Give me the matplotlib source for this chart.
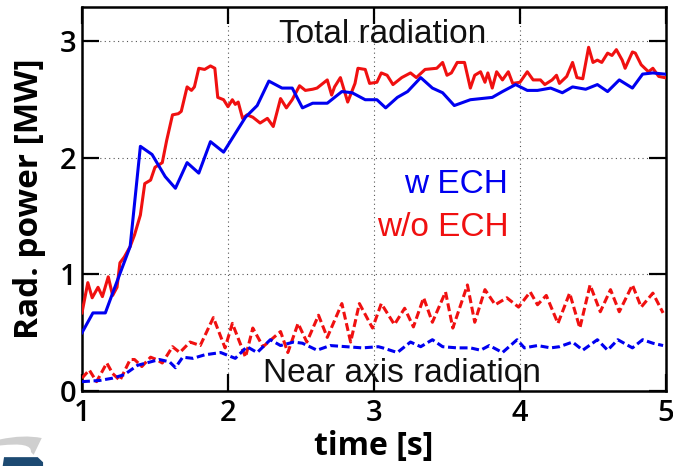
import numpy as np
import matplotlib.pyplot as plt
from matplotlib.patches import Polygon, PathPatch
from matplotlib.path import Path

# total radiation, with ECH
t_tot_ech = [1.0, 1.075, 1.16, 1.21, 1.33, 1.40, 1.48, 1.57, 1.64, 1.72, 1.80, 1.88,
             1.97, 2.12, 2.20, 2.28, 2.37, 2.44, 2.51, 2.58, 2.68, 2.78, 2.85, 2.94,
             3.02, 3.08, 3.16, 3.23, 3.32, 3.40, 3.47, 3.55, 3.66, 3.81, 3.88, 3.97,
             4.05, 4.12, 4.21, 4.29, 4.36, 4.45, 4.53, 4.60, 4.68, 4.77, 4.84, 4.91, 4.99]
p_tot_ech = [0.50, 0.67, 0.67, 0.84, 1.24, 2.10, 2.03, 1.84, 1.74, 1.96, 1.87, 2.14,
             2.05, 2.35, 2.45, 2.66, 2.60, 2.60, 2.43, 2.47, 2.47, 2.57, 2.56, 2.50,
             2.50, 2.43, 2.52, 2.57, 2.69, 2.60, 2.56, 2.45, 2.50, 2.52, 2.57, 2.63,
             2.58, 2.58, 2.60, 2.56, 2.61, 2.59, 2.63, 2.57, 2.67, 2.60, 2.72, 2.73, 2.72]

# total radiation, without ECH
t_tot_noech = [1.0, 1.04, 1.07, 1.11, 1.14, 1.18, 1.21, 1.24, 1.26, 1.29, 1.33, 1.36,
               1.40, 1.43, 1.47, 1.50, 1.55, 1.58, 1.62, 1.66, 1.68, 1.72, 1.75, 1.77,
               1.80, 1.84, 1.88, 1.91, 1.93, 1.97, 2.00, 2.03, 2.05, 2.07, 2.10, 2.13,
               2.17, 2.22, 2.27, 2.31, 2.36, 2.40, 2.44, 2.49, 2.53, 2.58, 2.61, 2.65,
               2.68, 2.71, 2.73, 2.77, 2.82, 2.87, 2.89, 2.94, 2.97, 3.02, 3.05, 3.09,
               3.13, 3.19, 3.25, 3.29, 3.35, 3.43, 3.47, 3.50, 3.53, 3.57, 3.60, 3.62,
               3.66, 3.69, 3.73, 3.76, 3.78, 3.81, 3.84, 3.88, 3.92, 3.95, 4.00, 4.05,
               4.09, 4.14, 4.17, 4.22, 4.25, 4.27, 4.32, 4.36, 4.39, 4.43, 4.47, 4.50,
               4.53, 4.56, 4.60, 4.63, 4.66, 4.70, 4.72, 4.77, 4.79, 4.83, 4.88, 4.91,
               4.95, 4.99]
p_tot_noech = [0.67, 0.93, 0.80, 0.89, 0.81, 0.98, 0.82, 0.89, 1.10, 1.15, 1.24, 1.34,
               1.51, 1.78, 1.81, 1.92, 1.96, 2.15, 2.37, 2.38, 2.40, 2.61, 2.58, 2.61,
               2.77, 2.76, 2.79, 2.77, 2.52, 2.50, 2.44, 2.50, 2.46, 2.48, 2.34, 2.37,
               2.35, 2.30, 2.34, 2.27, 2.51, 2.43, 2.50, 2.62, 2.58, 2.59, 2.60, 2.64,
               2.67, 2.54, 2.61, 2.69, 2.48, 2.64, 2.77, 2.76, 2.64, 2.65, 2.73, 2.71,
               2.63, 2.69, 2.73, 2.69, 2.76, 2.77, 2.82, 2.71, 2.73, 2.82, 2.82, 2.82,
               2.60, 2.71, 2.74, 2.65, 2.73, 2.60, 2.74, 2.67, 2.74, 2.64, 2.65, 2.74,
               2.67, 2.67, 2.63, 2.67, 2.71, 2.64, 2.70, 2.82, 2.69, 2.68, 2.95, 2.82,
               2.84, 2.82, 2.90, 2.88, 2.93, 2.84, 2.77, 2.91, 2.90, 2.80, 2.74, 2.77,
               2.70, 2.69]

# near axis radiation, with ECH
t_core_ech = [1.0, 1.12, 1.21, 1.29, 1.38, 1.44, 1.53, 1.60, 1.64, 1.69, 1.76, 1.84,
              1.95, 1.99, 2.05, 2.13, 2.20, 2.29, 2.36, 2.45, 2.51, 2.61, 2.70, 2.81,
              2.92, 3.03, 3.06, 3.16, 3.25, 3.32, 3.40, 3.47, 3.57, 3.66, 3.73, 3.79,
              3.88, 3.98, 4.03, 4.12, 4.21, 4.27, 4.36, 4.43, 4.53, 4.60, 4.67, 4.77,
              4.84, 4.91, 4.98]
p_core_ech = [0.08, 0.09, 0.11, 0.14, 0.22, 0.24, 0.27, 0.25, 0.20, 0.29, 0.28, 0.31,
              0.33, 0.31, 0.28, 0.38, 0.33, 0.44, 0.39, 0.42, 0.41, 0.35, 0.39, 0.38,
              0.37, 0.38, 0.37, 0.33, 0.42, 0.38, 0.44, 0.38, 0.37, 0.37, 0.35, 0.39,
              0.33, 0.44, 0.37, 0.39, 0.37, 0.38, 0.42, 0.35, 0.44, 0.35, 0.44, 0.37,
              0.44, 0.41, 0.39]

# near axis radiation, without ECH
t_core_noech = [1.0, 1.05, 1.10, 1.17, 1.21, 1.26, 1.33, 1.36, 1.41, 1.47, 1.51, 1.55,
                1.62, 1.67, 1.74, 1.81, 1.90, 1.98, 2.03, 2.12, 2.17, 2.24, 2.36, 2.41,
                2.48, 2.54, 2.62, 2.68, 2.78, 2.84, 2.90, 2.99, 3.05, 3.14, 3.21, 3.27,
                3.34, 3.40, 3.49, 3.54, 3.64, 3.69, 3.76, 3.83, 3.91, 3.99, 4.07, 4.12,
                4.18, 4.26, 4.34, 4.41, 4.48, 4.55, 4.62, 4.68, 4.77, 4.83, 4.91, 4.98]
p_core_noech = [0.11, 0.18, 0.08, 0.24, 0.15, 0.09, 0.27, 0.27, 0.21, 0.29, 0.27, 0.24,
                0.38, 0.33, 0.42, 0.39, 0.63, 0.37, 0.58, 0.29, 0.54, 0.38, 0.51, 0.33,
                0.58, 0.42, 0.65, 0.46, 0.75, 0.42, 0.75, 0.54, 0.75, 0.57, 0.71, 0.55,
                0.80, 0.59, 0.85, 0.54, 0.91, 0.59, 0.87, 0.74, 0.80, 0.72, 0.85, 0.74,
                0.82, 0.58, 0.84, 0.54, 0.91, 0.68, 0.87, 0.68, 0.91, 0.72, 0.84, 0.67]

x_ticks = [1, 2, 3, 4, 5]
y_ticks = [0, 1, 2, 3]

blue = "#0000f0"
red = "#f01010"
label_font = "Open Sans"
text_font = "Liberation Sans"
dashes = (0, (2.6, 1.2))

fig = plt.figure(figsize=(6.73, 4.66), dpi=100)
ax = fig.add_axes([0.1218, 0.161, 0.8678, 0.825])

ax.plot(t_tot_noech, p_tot_noech, color=red, lw=2.2, zorder=3)
ax.plot(t_tot_ech, p_tot_ech, color=blue, lw=2.2, zorder=4)
ax.plot(t_core_noech, p_core_noech, color=red, lw=2.2, ls=dashes, zorder=3)
ax.plot(t_core_ech, p_core_ech, color=blue, lw=2.2, ls=dashes, zorder=4)

ax.set_xlim(1, 5)
ax.set_ylim(0, 3.3)
ax.set_xticks(x_ticks)
ax.set_yticks(y_ticks)
ax.grid(True, ls=(0, (1, 3)), color="#555555", lw=0.8)

ax.tick_params(direction="in", length=12, width=1.6, top=True, right=True,
               labelsize=21)
ax.tick_params(axis="x", pad=6)
ax.tick_params(axis="y", pad=4)
for lbl in ax.get_xticklabels() + ax.get_yticklabels():
    lbl.set_fontfamily(label_font)
    lbl.set_fontweight("semibold")
for sp in ax.spines.values():
    sp.set_linewidth(1.8)

ax.set_xlabel("time [s]", fontsize=23, fontweight="bold", family=label_font, labelpad=1)
ax.set_ylabel("Rad. power [MW]", fontsize=24, fontweight="bold", family=label_font, labelpad=10)

ax.text(3.06, 3.06, "Total radiation", fontsize=24, family=text_font,
        ha="center", va="center", color="#111111")
ax.text(3.92, 1.77, "w ECH", fontsize=24, family=text_font,
        ha="right", va="center", color=blue)
ax.text(3.92, 1.40, "w/o ECH", fontsize=24, family=text_font,
        ha="right", va="center", color=red)
ax.text(3.19, 0.15, "Near axis radiation", fontsize=24, family=text_font,
        ha="center", va="center", color="#111111")

# corner logo fragment
arc = Path([(0.0, 0.057), (0.035, 0.068), (0.062, 0.060), (0.050, 0.024),
            (0.046, 0.030), (0.048, 0.052), (0.0, 0.044), (0.0, 0.057)],
           [Path.MOVETO, Path.CURVE3, Path.CURVE3, Path.LINETO,
            Path.LINETO, Path.CURVE3, Path.CURVE3, Path.CLOSEPOLY])
fig.patches.append(PathPatch(arc, transform=fig.transFigure, fc="#cfcfcf", ec="none"))
fig.patches.append(Polygon([(0.004, 0.0), (0.006, 0.019), (0.056, 0.019),
                            (0.064, 0.008), (0.064, 0.0)],
                           closed=True, transform=fig.transFigure,
                           fc="#1d4a72", ec="none"))

fig.savefig("out.png", dpi=100)
